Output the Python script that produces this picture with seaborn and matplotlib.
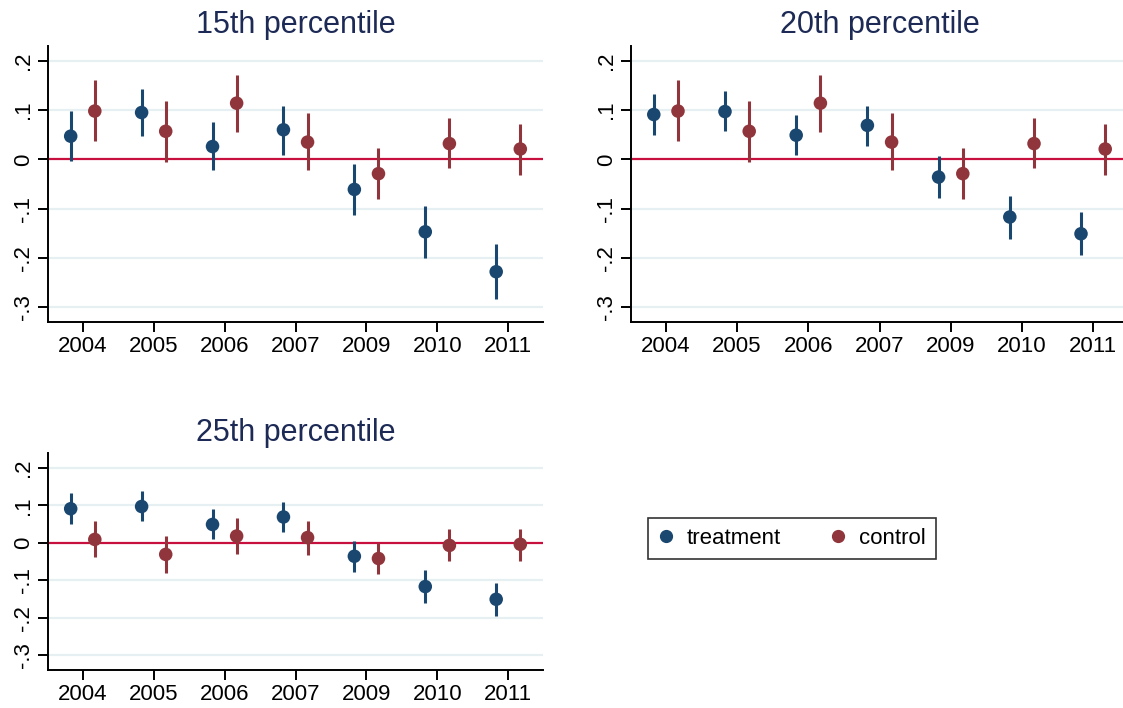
import numpy as np
import pandas as pd
import seaborn as sns
import matplotlib.pyplot as plt
from matplotlib.lines import Line2D

years = ["2004", "2005", "2006", "2007", "2009", "2010", "2011"]
panels = ["15th percentile", "20th percentile", "25th percentile"]

# point estimates and 95% CI bounds
treat_est = {
    "15th percentile": [0.047, 0.095, 0.026, 0.060, -0.061, -0.147, -0.228],
    "20th percentile": [0.091, 0.097, 0.049, 0.069, -0.036, -0.117, -0.151],
    "25th percentile": [0.091, 0.097, 0.049, 0.069, -0.036, -0.117, -0.151],
}
treat_lo = {
    "15th percentile": [-0.003, 0.047, -0.022, 0.009, -0.112, -0.201, -0.284],
    "20th percentile": [0.049, 0.058, 0.009, 0.028, -0.078, -0.161, -0.195],
    "25th percentile": [0.049, 0.058, 0.009, 0.028, -0.078, -0.161, -0.195],
}
treat_hi = {
    "15th percentile": [0.098, 0.143, 0.076, 0.109, -0.009, -0.095, -0.172],
    "20th percentile": [0.132, 0.138, 0.089, 0.109, 0.006, -0.074, -0.107],
    "25th percentile": [0.132, 0.138, 0.089, 0.109, 0.006, -0.074, -0.107],
}
ctrl_est = {
    "15th percentile": [0.098, 0.057, 0.114, 0.035, -0.029, 0.032, 0.021],
    "20th percentile": [0.098, 0.057, 0.114, 0.035, -0.029, 0.032, 0.021],
    "25th percentile": [0.009, -0.031, 0.018, 0.014, -0.042, -0.007, -0.004],
}
ctrl_lo = {
    "15th percentile": [0.037, -0.005, 0.055, -0.021, -0.080, -0.018, -0.031],
    "20th percentile": [0.037, -0.005, 0.055, -0.021, -0.080, -0.018, -0.031],
    "25th percentile": [-0.039, -0.081, -0.030, -0.032, -0.083, -0.048, -0.048],
}
ctrl_hi = {
    "15th percentile": [0.160, 0.118, 0.172, 0.094, 0.023, 0.083, 0.072],
    "20th percentile": [0.160, 0.118, 0.172, 0.094, 0.023, 0.083, 0.072],
    "25th percentile": [0.058, 0.019, 0.065, 0.059, 0.000, 0.036, 0.038],
}

NAVY = "#1a476f"
MAROON = "#90353b"
ZERO = "#c8103e"
GRID = "#e6eff1"
TITLE = "#1c2a55"

rows = []
for p in panels:
    for i, y in enumerate(years):
        rows.append(dict(panel=p, year=y, pos=i - 0.17, group="treatment",
                         est=treat_est[p][i], lo=treat_lo[p][i], hi=treat_hi[p][i]))
        rows.append(dict(panel=p, year=y, pos=i + 0.17, group="control",
                         est=ctrl_est[p][i], lo=ctrl_lo[p][i], hi=ctrl_hi[p][i]))
df = pd.DataFrame(rows)

sns.set_style("white")
plt.rcParams["font.family"] = ["Liberation Sans", "DejaVu Sans"]
plt.rcParams["text.color"] = "black"

W, H = 1123, 708
fig = plt.figure(figsize=(W / 100, H / 100), dpi=100)

# axes boxes in pixels: left, top, right, bottom, plus y-range
boxes = {
    "15th percentile": (48, 46, 543, 322, (-0.33, 0.23)),
    "20th percentile": (631, 46, 1128, 322, (-0.33, 0.23)),
    "25th percentile": (48, 453, 543, 670, (-0.34, 0.24)),
}
palette = {"treatment": NAVY, "control": MAROON}

for p in panels:
    l, t, r, b, ylim = boxes[p]
    ax = fig.add_axes([l / W, (H - b) / H, (r - l) / W, (b - t) / H])
    d = df[df.panel == p]
    for yv in [-0.3, -0.2, -0.1, 0.1, 0.2]:
        ax.axhline(yv, color=GRID, lw=1.6, zorder=0)
    ax.axhline(0, color=ZERO, lw=1.6, zorder=1)
    for g, c in palette.items():
        dg = d[d.group == g]
        ax.vlines(dg.pos, dg.lo, dg.hi, color=c, lw=2.2, zorder=2)
    sns.scatterplot(data=d, x="pos", y="est", hue="group", palette=palette,
                    s=95, edgecolor="none", legend=False, ax=ax, zorder=3)
    ax.set_xlim(-0.49, 6.49)
    ax.set_ylim(*ylim)
    ax.set_xticks(range(len(years)))
    ax.set_xticklabels(years, fontsize=16)
    ax.set_yticks([-0.3, -0.2, -0.1, 0, 0.1, 0.2])
    ax.set_yticklabels(["-.3", "-.2", "-.1", "0", ".1", ".2"], fontsize=16,
                       rotation=90, va="center")
    ax.set_xlabel("")
    ax.set_ylabel("")
    ax.tick_params(axis="both", direction="out", length=7, width=1.4,
                   color="black", labelcolor="black", bottom=True, left=True)
    ax.tick_params(axis="x", pad=3)
    ax.tick_params(axis="y", pad=3)
    for s in ["top", "right"]:
        ax.spines[s].set_visible(False)
    for s in ["left", "bottom"]:
        ax.spines[s].set_color("black")
        ax.spines[s].set_linewidth(1.4)
    ax.set_title(p, fontsize=22, color=TITLE, pad=9)

# legend
handles = [Line2D([], [], marker="o", ls="", color=palette[g], markersize=8.5)
           for g in ["treatment", "control"]]
leg = fig.legend(handles, ["treatment", "control"], ncol=2, loc="center",
                 bbox_to_anchor=(792 / W, (H - 538) / H), fontsize=16,
                 frameon=True, fancybox=False, edgecolor="black",
                 handlelength=0.7, handletextpad=0.6, columnspacing=2.2,
                 borderpad=0.45, borderaxespad=0, labelcolor="black")
leg.get_frame().set_linewidth(1.2)

fig.savefig("out.png", dpi=100, facecolor="white")
